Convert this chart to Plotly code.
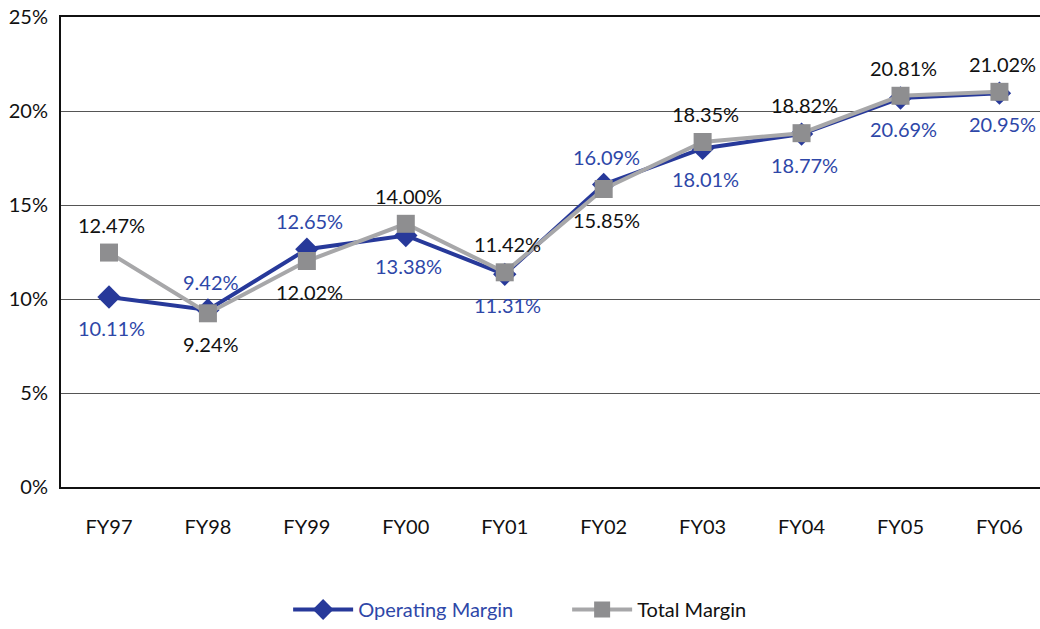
import plotly.graph_objects as go

categories = ["FY97", "FY98", "FY99", "FY00", "FY01", "FY02", "FY03", "FY04", "FY05", "FY06"]
operating_margin = [10.11, 9.42, 12.65, 13.38, 11.31, 16.09, 18.01, 18.77, 20.69, 20.95]
total_margin = [12.47, 9.24, 12.02, 14.00, 11.42, 15.85, 18.35, 18.82, 20.81, 21.02]
# label placement: +1 above, -1 below
op_label_side = [-1, 1, 1, -1, -1, 1, -1, -1, -1, -1]
tot_label_side = [1, -1, -1, 1, 1, -1, 1, 1, 1, 1]
y_ticks = [0, 5, 10, 15, 20, 25]

BLUE = "#27399A"
BLUE_TXT = "#2E47A8"
GRAY_M = "#8E8E90"
GRAY_L = "#A7A7A9"
FONT = "Lato"


def shift(side):
    return 28 if side > 0 else -31


fig = go.Figure()
fig.add_trace(go.Scatter(
    x=categories, y=operating_margin, mode="lines+markers",
    name=f"<span style='color:{BLUE_TXT}'>Operating Margin</span>",
    line=dict(color=BLUE, width=4),
    marker=dict(symbol="diamond", size=18, color=BLUE),
))
fig.add_trace(go.Scatter(
    x=categories, y=total_margin, mode="lines+markers",
    name="Total Margin",
    line=dict(color=GRAY_L, width=4),
    marker=dict(symbol="square", size=18, color=GRAY_M),
))

annotations = []
for c, v, s in zip(categories, operating_margin, op_label_side):
    annotations.append(dict(x=c, y=v, text=f"{v:.2f}%", showarrow=False,
                            yshift=shift(s), xshift=3,
                            font=dict(family=FONT, size=20, color=BLUE_TXT)))
for c, v, s in zip(categories, total_margin, tot_label_side):
    annotations.append(dict(x=c, y=v, text=f"{v:.2f}%", showarrow=False,
                            yshift=shift(s), xshift=3,
                            font=dict(family=FONT, size=20, color="#111111")))

fig.update_layout(
    width=1040, height=629,
    margin=dict(l=61, r=0, t=17, b=137),
    paper_bgcolor="white", plot_bgcolor="white",
    font=dict(family=FONT, size=20, color="#111111"),
    showlegend=True,
    legend=dict(orientation="h", x=0.232, xanchor="left", y=-0.2617, yanchor="middle",
                font=dict(family=FONT, size=20, color="#111111"),
                itemwidth=60, entrywidth=204),
    annotations=annotations,
    xaxis=dict(
        type="category", range=[-0.485, 9.41], automargin=False,
        showline=True, linecolor="#111111", linewidth=2, mirror=True,
        showgrid=False, ticks="", ticklabelstandoff=21,
        tickfont=dict(family=FONT, size=20, color="#111111"),
    ),
    yaxis=dict(
        range=[0, 25], tickvals=y_ticks, ticktext=[f"{t}%" for t in y_ticks],
        automargin=False,
        showline=True, linecolor="#111111", linewidth=2,
        showgrid=True, gridcolor="#555555", gridwidth=1,
        zeroline=False, ticks="", ticklabelstandoff=7,
        tickfont=dict(family=FONT, size=20, color="#111111"),
    ),
)

fig.write_html(
    "out.html",
    config={"displayModeBar": False},
    post_script="document.body.style.margin='0';document.body.style.overflow='hidden';",
)
